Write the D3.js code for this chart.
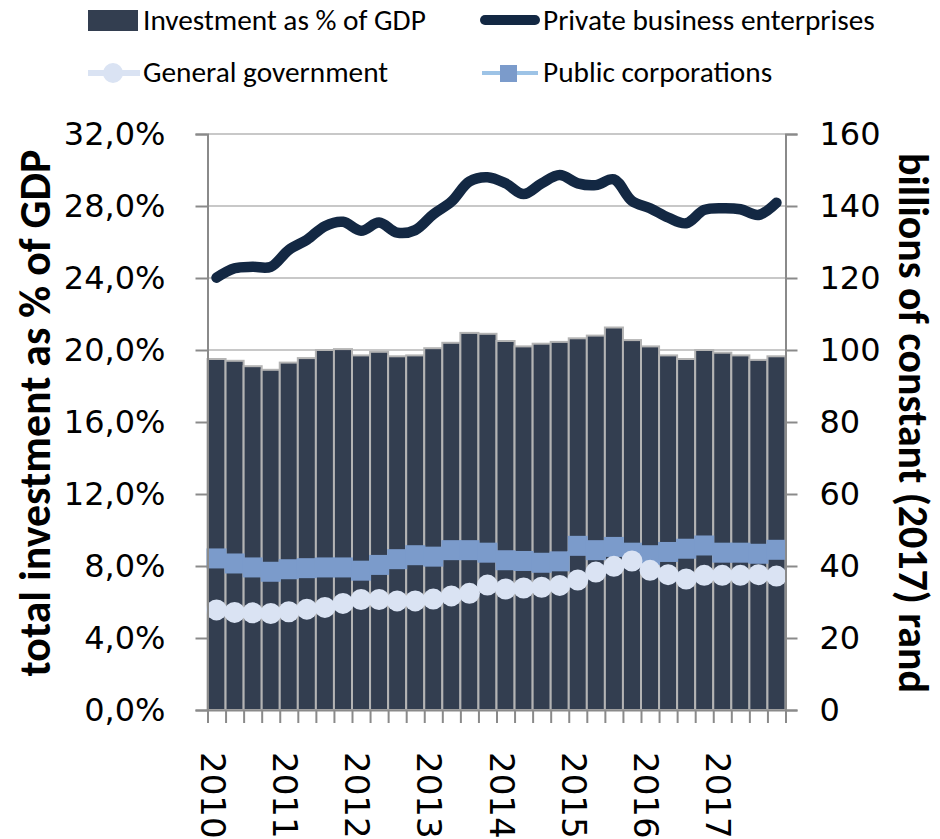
<!DOCTYPE html>
<html>
<head>
<meta charset="utf-8">
<script src="https://cdn.jsdelivr.net/npm/d3@7"></script>
<style>
  body { margin: 0; background: #fff; }
  svg { display: block; }
</style>
</head>
<body>
<div id="chart"></div>
<script>
// quarterly data, 2010Q1 .. 2017Q4
var years = [2010, 2011, 2012, 2013, 2014, 2015, 2016, 2017];
var quarters = years.flatMap(function(y) { return [y + "Q1", y + "Q2", y + "Q3", y + "Q4"]; });

// total investment as % of GDP (left axis)
var investPct = [19.5, 19.4, 19.1, 18.9, 19.3, 19.55, 20.0, 20.05,
                 19.7, 19.9, 19.65, 19.7, 20.1, 20.4, 20.95, 20.9,
                 20.5, 20.2, 20.35, 20.45, 20.65, 20.8, 21.25, 20.55,
                 20.2, 19.7, 19.5, 20.0, 19.85, 19.7, 19.45, 19.65];

// billions of constant (2017) rand (right axis)
var privateBiz = [120.1, 122.7, 123.1, 123.1, 127.8, 130.6, 134.4, 135.6,
                  133.1, 135.4, 132.6, 133.3, 137.7, 141.2, 146.8, 148.0,
                  146.3, 143.3, 146.3, 148.6, 146.3, 145.8, 147.4, 141.4,
                  139.4, 136.8, 135.2, 138.9, 139.4, 139.1, 137.5, 140.9];
var generalGov = [27.8, 27.1, 27.0, 26.8, 27.3, 28.0, 28.5, 29.6,
                  30.7, 30.7, 30.3, 30.3, 30.8, 31.7, 32.4, 34.7,
                  33.6, 33.9, 34.1, 34.6, 36.1, 38.3, 39.9, 41.4,
                  38.8, 37.6, 36.4, 37.4, 37.4, 37.4, 37.6, 37.2];
var publicCorp = [42.1, 40.7, 39.6, 38.4, 39.1, 39.4, 39.6, 39.6,
                  38.7, 40.3, 41.9, 43.0, 42.6, 44.4, 44.4, 43.7,
                  41.6, 41.4, 40.9, 41.3, 45.6, 44.4, 45.3, 43.7,
                  43.0, 43.9, 44.8, 45.7, 43.7, 43.7, 43.4, 44.5];

var leftTicks = [0, 4, 8, 12, 16, 20, 24, 28, 32];
var rightTicks = [0, 20, 40, 60, 80, 100, 120, 140, 160];

var width = 940, height = 839;
var plot = {left: 207.5, right: 785.5, top: 134, bottom: 710};

var svg = d3.select("#chart").append("svg")
    .attr("width", width)
    .attr("height", height);

var x = d3.scaleBand()
    .domain(quarters)
    .range([plot.left, plot.right])
    .padding(0);

var xEdge = d3.scaleLinear()
    .domain([0, quarters.length])
    .range([plot.left, plot.right]);

var yL = d3.scaleLinear().domain([0, 32]).range([plot.bottom, plot.top]);
var yR = d3.scaleLinear().domain([0, 160]).range([plot.bottom, plot.top]);

var cx = function(d, i) { return x(quarters[i]) + x.bandwidth() / 2; };

// gridlines
svg.append("g")
    .selectAll("line")
    .data(leftTicks)
    .enter()
    .append("line")
    .attr("x1", plot.left)
    .attr("x2", plot.right)
    .attr("y1", function(d) { return yL(d); })
    .attr("y2", function(d) { return yL(d); })
    .attr("stroke", "#c8c8c8")
    .attr("stroke-width", 2);

// bars
svg.append("g")
    .selectAll("rect")
    .data(investPct)
    .enter()
    .append("rect")
    .attr("x", function(d, i) { return x(quarters[i]); })
    .attr("y", function(d) { return yL(d); })
    .attr("width", x.bandwidth())
    .attr("height", function(d) { return plot.bottom - yL(d); })
    .attr("fill", "#333e50")
    .attr("stroke", "#b4b4b4")
    .attr("stroke-width", 2);

// private business line
var smooth = d3.line()
    .x(cx)
    .y(function(d) { return yR(d); })
    .curve(d3.curveCatmullRom.alpha(0.5));

svg.append("path")
    .datum(privateBiz)
    .attr("d", smooth)
    .attr("fill", "none")
    .attr("stroke", "#132843")
    .attr("stroke-width", 10.5)
    .attr("stroke-linecap", "round")
    .attr("stroke-linejoin", "round");

// public corporations
svg.append("path")
    .datum(publicCorp)
    .attr("d", smooth)
    .attr("fill", "none")
    .attr("stroke", "#9dc3e6")
    .attr("stroke-width", 4);

svg.append("g")
    .selectAll("rect")
    .data(publicCorp)
    .enter()
    .append("rect")
    .attr("x", function(d, i) { return cx(d, i) - 10; })
    .attr("y", function(d) { return yR(d) - 10; })
    .attr("width", 20)
    .attr("height", 20)
    .attr("fill", "#7b9bcb");

// general government
svg.append("path")
    .datum(generalGov)
    .attr("d", smooth)
    .attr("fill", "none")
    .attr("stroke", "#dae3f3")
    .attr("stroke-width", 4);

svg.append("g")
    .selectAll("circle")
    .data(generalGov)
    .enter()
    .append("circle")
    .attr("cx", cx)
    .attr("cy", function(d) { return yR(d); })
    .attr("r", 10.5)
    .attr("fill", "#dae3f3");

// axes
var axisColor = "#8a8a8a";
var tickFont = "'DejaVu Sans', Verdana, sans-serif";

var gL = svg.append("g")
    .attr("transform", "translate(" + plot.left + ",0)")
    .call(d3.axisLeft(yL)
        .tickValues(leftTicks)
        .tickSize(12)
        .tickPadding(30)
        .tickFormat(function(d) { return d.toFixed(1).replace(".", ",") + "%"; }));

var gR = svg.append("g")
    .attr("transform", "translate(" + plot.right + ",0)")
    .call(d3.axisRight(yR)
        .tickValues(rightTicks)
        .tickSize(12)
        .tickPadding(22));

var gB = svg.append("g")
    .attr("transform", "translate(0," + plot.bottom + ")")
    .call(d3.axisBottom(xEdge)
        .tickValues(d3.range(quarters.length + 1))
        .tickSize(13)
        .tickFormat(""));

[gL, gR, gB].forEach(function(g) {
    g.select(".domain").attr("stroke", axisColor).attr("stroke-width", 2);
    g.selectAll(".tick line").attr("stroke", axisColor).attr("stroke-width", 2);
    g.selectAll("text")
        .attr("fill", "#000")
        .style("font-family", tickFont)
        .style("font-size", "32px");
});

// year labels, rotated
svg.append("g")
    .selectAll("text")
    .data(years)
    .enter()
    .append("text")
    .attr("transform", function(d) {
        return "translate(" + (x(d + "Q1") + x.bandwidth() / 2 - 4) + ",752) rotate(90)";
    })
    .attr("dy", "0.35em")
    .style("font-family", tickFont)
    .style("font-size", "34px")
    .text(function(d) { return d; });

// fit a text to a target width by changing its font size
function fit(sel, target) {
    var w = sel.node().getComputedTextLength();
    var fs = parseFloat(sel.style("font-size"));
    sel.style("font-size", (fs * target / w) + "px");
}

var titleFont = "Carlito, 'Open Sans', 'Noto Sans', sans-serif";

var tL = svg.append("text")
    .attr("transform", "translate(35,413) rotate(-90)")
    .attr("text-anchor", "middle")
    .attr("dy", "0.35em")
    .style("font-family", titleFont)
    .style("font-weight", "bold")
    .style("font-size", "30px")
    .text("total investment as % of GDP");
fit(tL, 527);

var tR = svg.append("text")
    .attr("transform", "translate(914,423) rotate(90)")
    .attr("text-anchor", "middle")
    .attr("dy", "0.35em")
    .style("font-family", titleFont)
    .style("font-weight", "bold")
    .style("font-size", "30px")
    .text("billions of constant (2017) rand");
fit(tR, 540);

// legend
var legFont = "Carlito, 'Liberation Sans Narrow', 'Open Sans', sans-serif";
var leg = svg.append("g");

leg.append("rect")
    .attr("x", 88).attr("y", 10)
    .attr("width", 50).attr("height", 21)
    .attr("fill", "#333e50");

leg.append("line")
    .attr("x1", 485).attr("x2", 535)
    .attr("y1", 20).attr("y2", 20)
    .attr("stroke", "#132843")
    .attr("stroke-width", 10)
    .attr("stroke-linecap", "round");

leg.append("line")
    .attr("x1", 88).attr("x2", 140)
    .attr("y1", 73).attr("y2", 73)
    .attr("stroke", "#dae3f3")
    .attr("stroke-width", 6);
leg.append("circle")
    .attr("cx", 113).attr("cy", 73).attr("r", 10)
    .attr("fill", "#dae3f3");

leg.append("line")
    .attr("x1", 482).attr("x2", 538)
    .attr("y1", 73).attr("y2", 73)
    .attr("stroke", "#9dc3e6")
    .attr("stroke-width", 4);
leg.append("rect")
    .attr("x", 500).attr("y", 65)
    .attr("width", 17).attr("height", 17)
    .attr("fill", "#7b9bcb");

var legItems = [
    {t: "Investment as % of GDP", x: 143, y: 30},
    {t: "Private business enterprises", x: 543, y: 30},
    {t: "General government", x: 143, y: 82},
    {t: "Public corporations", x: 543, y: 82}
];

var legText = leg.selectAll("text.leg")
    .data(legItems)
    .enter()
    .append("text")
    .attr("class", "leg")
    .attr("x", function(d) { return d.x; })
    .attr("y", function(d) { return d.y; })
    .style("font-family", legFont)
    .style("font-size", "24px")
    .text(function(d) { return d.t; });

// size legend text so "Private business enterprises" spans its width
var probe = legText.filter(function(d, i) { return i === 1; });
fit(probe, 332);
legText.style("font-size", probe.style("font-size"));
</script>
</body>
</html>
